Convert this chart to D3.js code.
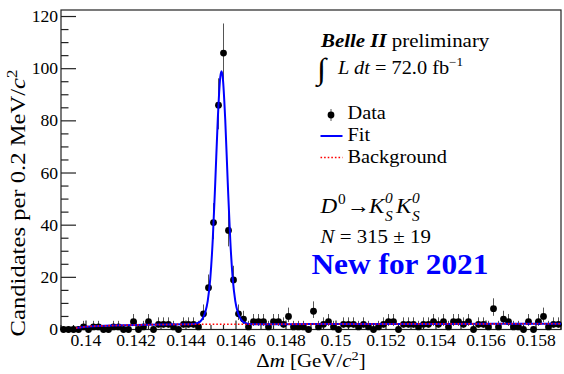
<!DOCTYPE html>
<html>
<head>
<meta charset="utf-8">
<script src="https://cdn.jsdelivr.net/npm/d3@7"></script>
<style>
  body { margin: 0; background: #fff; }
  text { font-family: "Liberation Serif", "Times New Roman", serif; fill: #000; }
</style>
</head>
<body>
<svg id="chart" width="564" height="374"></svg>
<script>
// Δm histogram: 100 bins of 0.2 MeV from 0.139 to 0.159 GeV/c^2
const binLow = 0.139;
const binWidth = 0.0002;
const counts = [
  0, 0, 0, 0, 1, 0, 1, 1, 0, 0,
  1, 1, 0, 0, 3, 0, 1, 3, 0, 2,
  2, 2, 1, 0, 2, 2, 2, 1, 6, 16,
  41, 86, 106, 38, 19, 6, 4, 1, 3, 3,
  3, 1, 3, 3, 2, 5, 1, 1, 1, 0,
  7, 1, 2, 3, 1, 0, 2, 2, 2, 1,
  2, 1, 0, 1, 2, 3, 3, 0, 2, 2,
  2, 1, 2, 2, 3, 2, 3, 1, 3, 3,
  2, 3, 0, 2, 2, 1, 8, 1, 4, 3,
  1, 1, 0, 3, 0, 3, 5, 1, 2, 2
];

// Total fit (signal + background)
const fitX = [0.1396, 0.1400, 0.1410, 0.1420, 0.1430, 0.1440,
  0.14407, 0.14417, 0.14427, 0.14437, 0.14447, 0.14457, 0.14467, 0.14477,
  0.14487, 0.14497, 0.14507, 0.14517, 0.14527, 0.14537, 0.14542, 0.14547,
  0.14557, 0.14567, 0.14577, 0.14587, 0.14597, 0.14607, 0.14617, 0.14627,
  0.14637, 0.14647, 0.14657, 0.14667, 0.14677,
  0.1480, 0.1500, 0.1540, 0.1590];
const fitY = [0.6, 1.1, 1.5, 1.75, 1.9, 1.98,
  2.0, 2.03, 2.08, 2.22, 2.5, 3.1, 4.3, 6.6,
  11.0, 19.4, 34.4, 56.3, 80.3, 96.7, 99.0, 96.7,
  80.3, 56.3, 34.4, 19.4, 11.0, 6.6, 4.3, 3.1,
  2.5, 2.22, 2.08, 2.03, 2.0,
  2.05, 2.1, 2.15, 2.2];

// Background component
const bkgX = [0.1396, 0.1400, 0.1410, 0.1420, 0.1430, 0.1440, 0.1460, 0.1480, 0.1500, 0.1540, 0.1590];
const bkgY = [0.6, 1.1, 1.5, 1.75, 1.9, 1.98, 2.0, 2.05, 2.1, 2.15, 2.2];

const xTickValues = [0.140, 0.142, 0.144, 0.146, 0.148, 0.150, 0.152, 0.154, 0.156, 0.158];
const xTickLabels = ["0.14", "0.142", "0.144", "0.146", "0.148", "0.15", "0.152", "0.154", "0.156", "0.158"];
const yTickValues = [0, 20, 40, 60, 80, 100, 120];

const SX = 1.1; // horizontal glyph stretch

const svg = d3.select("#chart");
const frameL = 61, frameR = 561, frameT = 10, frameB = 329.5;

const x = d3.scaleLinear().domain([0.139, 0.159]).range([frameL, frameR]);
const y = d3.scaleLinear().domain([0, 122.5]).range([frameB, frameT]);

function stext(parent, px, py, anchor, size) {
  return parent.append("text")
    .attr("transform", `translate(${px},${py}) scale(${SX},1)`)
    .attr("text-anchor", anchor)
    .attr("font-size", size);
}

// frame
svg.append("rect")
  .attr("x", frameL).attr("y", frameT)
  .attr("width", frameR - frameL).attr("height", frameB - frameT)
  .attr("fill", "none").attr("stroke", "#222").attr("stroke-width", 1.2);

// y axis ticks
const yMinor = d3.range(0, 121, 5);
svg.append("g").selectAll("line").data(yMinor).join("line")
  .attr("x1", frameL).attr("x2", d => frameL + (d % 20 === 0 ? 15 : 7.5))
  .attr("y1", d => y(d)).attr("y2", d => y(d))
  .attr("stroke", "#222").attr("stroke-width", 1.2);
const yLab = svg.append("g");
yTickValues.forEach(v => {
  stext(yLab, 58, y(v) + 5.5, "end", 16).text(v);
});

// x axis ticks
const xMinor = d3.range(0, 41).map(i => 0.139 + i * 0.0005);
svg.append("g").selectAll("line").data(xMinor).join("line")
  .attr("x1", d => x(d)).attr("x2", d => x(d))
  .attr("y1", frameB)
  .attr("y2", (d, i) => frameB - ((i - 2) % 4 === 0 ? 9 : 4.5))
  .attr("stroke", "#222").attr("stroke-width", 1.2);
const xLab = svg.append("g");
xTickValues.forEach((v, i) => {
  stext(xLab, x(v), 346, "middle", 16).text(xTickLabels[i]);
});

// axis titles
const xt = stext(svg, 311, 367, "middle", 19);
xt.append("tspan").text("Δ");
xt.append("tspan").attr("font-style", "italic").text("m");
xt.append("tspan").text(" [GeV/");
xt.append("tspan").attr("font-style", "italic").text("c");
xt.append("tspan").attr("font-size", 13).attr("dy", -7).text("2");
xt.append("tspan").attr("dy", 7).text("]");

const yt = svg.append("text")
  .attr("transform", "translate(25,203) rotate(-90) scale(1.12,1)")
  .attr("text-anchor", "middle").attr("font-size", 22);
yt.append("tspan").text("Candidates per 0.2 MeV/");
yt.append("tspan").attr("font-style", "italic").text("c");
yt.append("tspan").attr("font-size", 15).attr("dy", -8).text("2");

// data points with Poisson error bars
const pts = counts.map((n, i) => ({ xc: binLow + binWidth * (i + 0.5), n }));
function errLo(n) { return n === 0 ? 0 : n * Math.pow(1 - 1 / (9 * n) - 1 / (3 * Math.sqrt(n)), 3); }
function errHi(n) { return n === 0 ? 0 : n + 1 + Math.sqrt(n + 0.75); }
const dataG = svg.append("g");
dataG.selectAll("line").data(pts.filter(p => p.n > 0)).join("line")
  .attr("x1", p => x(p.xc)).attr("x2", p => x(p.xc))
  .attr("y1", p => y(errLo(p.n))).attr("y2", p => y(errHi(p.n)))
  .attr("stroke", "#555").attr("stroke-width", 1);
dataG.selectAll("circle").data(pts).join("circle")
  .attr("cx", p => x(p.xc)).attr("cy", p => y(p.n)).attr("r", 3.4)
  .attr("fill", "#000");

// fit curve and background
const fitLine = d3.line().x(d => x(d[0])).y(d => y(d[1])).curve(d3.curveMonotoneX);
svg.append("path").datum(fitX.map((v, i) => [v, fitY[i]]))
  .attr("d", fitLine).attr("fill", "none").attr("stroke", "#0000ff").attr("stroke-width", 2);
svg.append("path").datum(bkgX.map((v, i) => [v, bkgY[i]]))
  .attr("d", fitLine).attr("fill", "none").attr("stroke", "#ff0000")
  .attr("stroke-width", 1.6).attr("stroke-dasharray", "1.6,2");

// labels
const belle = stext(svg, 321, 47, "start", 19);
belle.append("tspan").attr("font-weight", "bold").attr("font-style", "italic").text("Belle II");
belle.append("tspan").text(" preliminary");

stext(svg, 317, 79, "start", 30).attr("font-family", "DejaVu Serif").text("∫");
const lum = stext(svg, 338, 74, "start", 18.5);
lum.append("tspan").attr("font-style", "italic").text("L dt");
lum.append("tspan").text(" = 72.0 fb");
lum.append("tspan").attr("font-size", 12).attr("dy", -8).text("−1");

// legend
svg.append("line").attr("x1", 331).attr("x2", 331).attr("y1", 109).attr("y2", 121)
  .attr("stroke", "#555").attr("stroke-width", 1);
svg.append("circle").attr("cx", 331).attr("cy", 115).attr("r", 3.4).attr("fill", "#000");
stext(svg, 347.5, 118.5, "start", 18.5).text("Data");
svg.append("line").attr("x1", 320.5).attr("x2", 342.5).attr("y1", 136).attr("y2", 136)
  .attr("stroke", "#0000ff").attr("stroke-width", 2);
stext(svg, 347.5, 141, "start", 18.5).text("Fit");
svg.append("line").attr("x1", 320.5).attr("x2", 342.5).attr("y1", 157.5).attr("y2", 157.5)
  .attr("stroke", "#ff0000").attr("stroke-width", 1.6).attr("stroke-dasharray", "1.6,2");
stext(svg, 347.5, 162.5, "start", 18.5).text("Background");

// decay channel: D0 -> KS0 KS0, scripts drawn as separate stacked labels
const decG = svg.append("g");
function decayPart(px, main, italic) {
  const t = stext(decG, px, 213, "start", 21).text(main);
  if (italic) t.attr("font-style", "italic");
  return t;
}
function script(px, py, s, italic) {
  const t = stext(decG, px, py, "start", 14).text(s);
  if (italic) t.attr("font-style", "italic");
  return t;
}
decayPart(320.5, "D", true);
script(338, 204, "0", false);
decayPart(347, "→", false);
decayPart(369, "K", true);
script(385, 203, "0", true);
script(385, 221, "S", true);
decayPart(396, "K", true);
script(412, 203, "0", true);
script(412, 221, "S", true);

const yieldText = stext(svg, 320.5, 243, "start", 19);
yieldText.append("tspan").attr("font-style", "italic").text("N");
yieldText.append("tspan").text(" = 315 ± 19");

stext(svg, 311.5, 273.5, "start", 28.5).attr("font-weight", "bold").style("fill", "#0000ff")
  .text("New for 2021");
</script>
</body>
</html>
